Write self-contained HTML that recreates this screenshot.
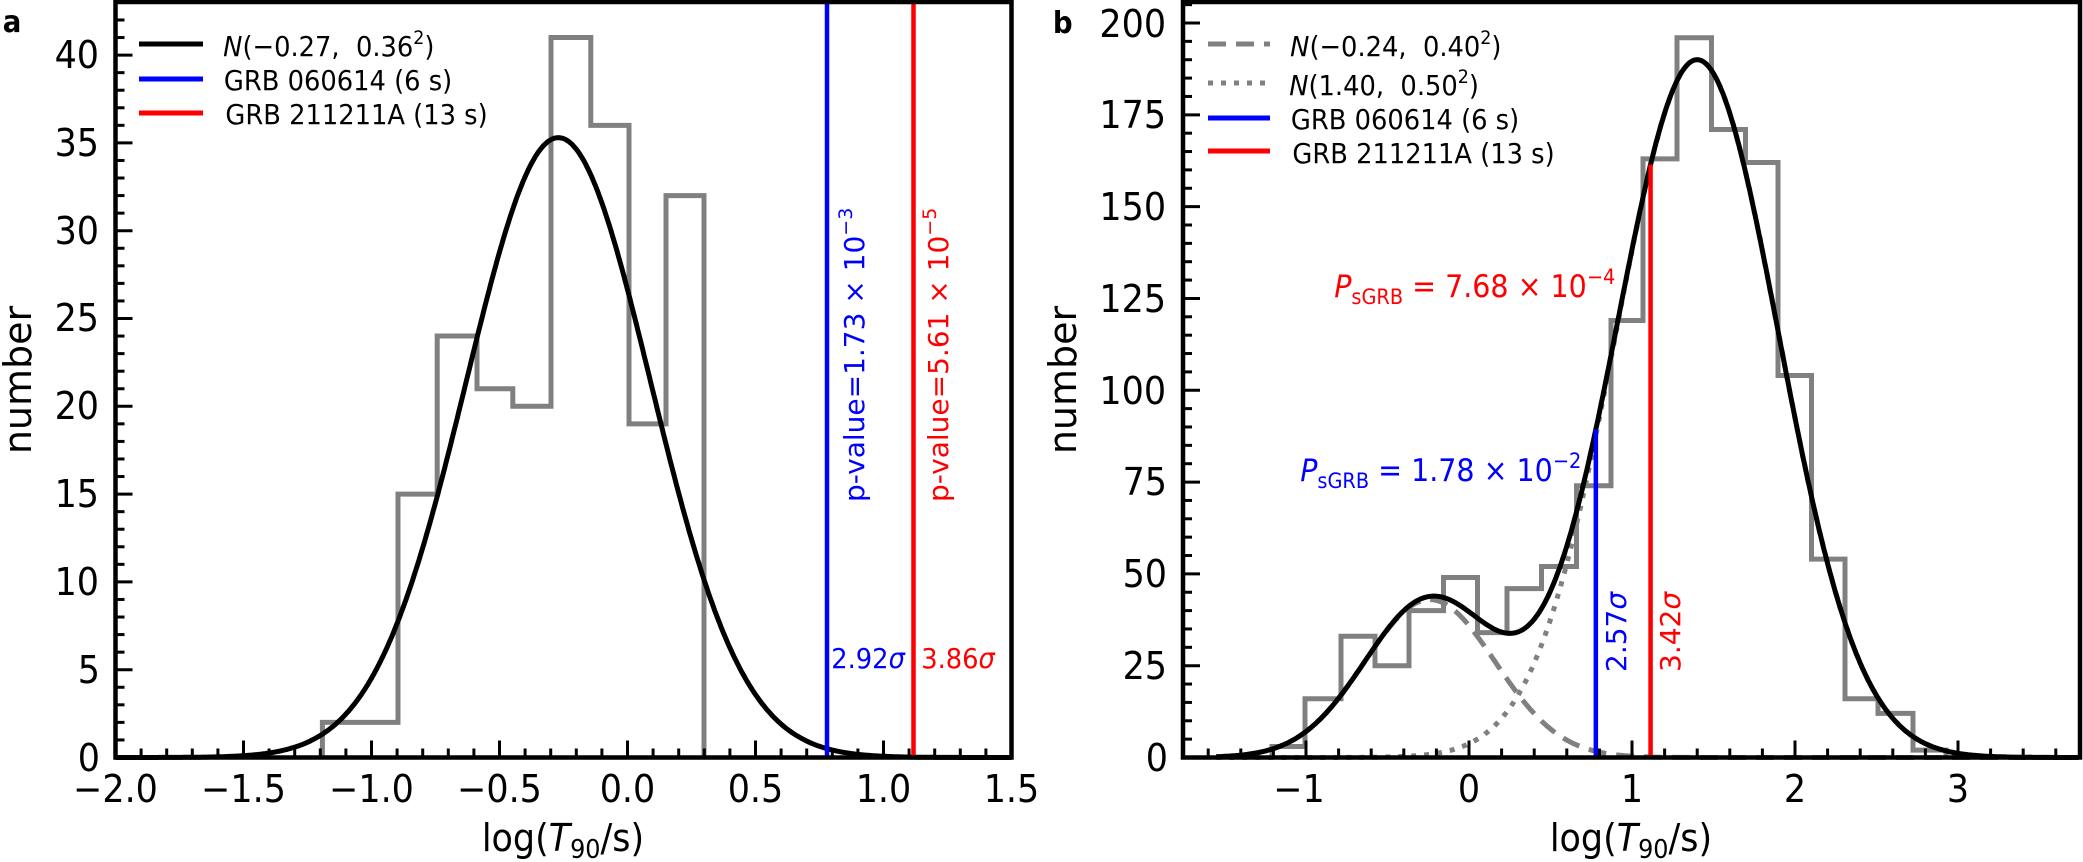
<!DOCTYPE html>
<html><head><meta charset="utf-8"><style>
html,body{margin:0;padding:0;background:#fff;}
svg{display:block;}
text{font-family:"DejaVu Sans","Liberation Sans",sans-serif;}
.sq{transform-box:fill-box;transform-origin:center;transform:scaleX(.92);}
.tk{font-size:38px;}
.lg{font-size:28px;}
.an{font-size:28px;}
</style></head><body>
<svg id="s" width="2083" height="862" viewBox="0 0 2083 862" xmlns="http://www.w3.org/2000/svg">
<g id="g"></g>
<text x="2" y="32" font-size="30" font-weight="bold" class="sq">a</text>
<text x="1052" y="33" font-size="30" font-weight="bold" class="sq">b</text>
<g class="tk" text-anchor="end">
<text class="sq" x="101" y="771">0</text>
<text class="sq" x="101" y="683">5</text>
<text class="sq" x="101" y="595">10</text>
<text class="sq" x="101" y="507">15</text>
<text class="sq" x="101" y="419">20</text>
<text class="sq" x="101" y="331">25</text>
<text class="sq" x="101" y="244">30</text>
<text class="sq" x="101" y="156">35</text>
<text class="sq" x="101" y="68">40</text>
</g>
<g class="tk" text-anchor="middle">
<text class="sq" x="115.5" y="802">−2.0</text>
<text class="sq" x="243.5" y="802">−1.5</text>
<text class="sq" x="371.5" y="802">−1.0</text>
<text class="sq" x="499.5" y="802">−0.5</text>
<text class="sq" x="627.5" y="802">0.0</text>
<text class="sq" x="755.5" y="802">0.5</text>
<text class="sq" x="883.5" y="802">1.0</text>
<text class="sq" x="1011.5" y="802">1.5</text>
</g>
<g class="tk" text-anchor="end">
<text class="sq" x="1169" y="771">0</text>
<text class="sq" x="1169" y="679">25</text>
<text class="sq" x="1169" y="587">50</text>
<text class="sq" x="1169" y="495">75</text>
<text class="sq" x="1169" y="404">100</text>
<text class="sq" x="1169" y="312">125</text>
<text class="sq" x="1169" y="220">150</text>
<text class="sq" x="1169" y="128">175</text>
<text class="sq" x="1169" y="37">200</text>
</g>
<g class="tk" text-anchor="middle">
<text class="sq" x="1299" y="802">−1</text>
<text class="sq" x="1469" y="802">0</text>
<text class="sq" x="1632" y="802">1</text>
<text class="sq" x="1795" y="802">2</text>
<text class="sq" x="1958" y="802">3</text>
</g>
<text class="tk sq" x="563" y="851" text-anchor="middle">log(<tspan font-style="italic">T</tspan><tspan font-size="26" dy="7">90</tspan><tspan dy="-7">/s)</tspan></text>
<text class="tk sq" x="1631" y="851" text-anchor="middle">log(<tspan font-style="italic">T</tspan><tspan font-size="26" dy="7">90</tspan><tspan dy="-7">/s)</tspan></text>
<text class="tk" transform="translate(31,380) rotate(-90)" text-anchor="middle">number</text>
<text class="tk" transform="translate(1076,380) rotate(-90)" text-anchor="middle">number</text>
<g class="lg">
<text class="sq" x="214" y="56"><tspan font-style="italic">N</tspan>(−0.27,&#160;&#160;0.36<tspan font-size="19" dy="-12">2</tspan><tspan dy="12">)</tspan></text>
<text class="sq" x="214" y="90">GRB 060614 (6 s)</text>
<text class="sq" x="214" y="124">GRB 211211A (13 s)</text>
<text class="sq" x="1281" y="56"><tspan font-style="italic">N</tspan>(−0.24,&#160;&#160;0.40<tspan font-size="19" dy="-12">2</tspan><tspan dy="12">)</tspan></text>
<text class="sq" x="1281" y="95"><tspan font-style="italic">N</tspan>(1.40,&#160;&#160;0.50<tspan font-size="19" dy="-12">2</tspan><tspan dy="12">)</tspan></text>
<text class="sq" x="1281" y="129">GRB 060614 (6 s)</text>
<text class="sq" x="1281" y="163">GRB 211211A (13 s)</text>
</g>
<g class="an">
<text fill="#0000ff" transform="translate(864,502) rotate(-90)">p-value=1.73 × 10<tspan font-size="19" dy="-12">−3</tspan></text>
<text fill="#ff0000" transform="translate(948,502) rotate(-90)">p-value=5.61 × 10<tspan font-size="19" dy="-12">−5</tspan></text>
<text class="sq" fill="#0000ff" x="828" y="668">2.92<tspan font-style="italic">σ</tspan></text>
<text class="sq" fill="#ff0000" x="918" y="668">3.86<tspan font-style="italic">σ</tspan></text>
<text class="sq" fill="#ff0000" x="1322" y="297" font-size="31"><tspan font-style="italic">P</tspan><tspan font-size="21" dy="7">sGRB</tspan><tspan dy="-7"> = 7.68 × 10</tspan><tspan font-size="21" dy="-13">−4</tspan></text>
<text class="sq" fill="#0000ff" x="1288" y="481" font-size="31"><tspan font-style="italic">P</tspan><tspan font-size="21" dy="7">sGRB</tspan><tspan dy="-7"> = 1.78 × 10</tspan><tspan font-size="21" dy="-13">−2</tspan></text>
<text fill="#0000ff" transform="translate(1626,672) rotate(-90)">2.57<tspan font-style="italic">σ</tspan></text>
<text fill="#ff0000" transform="translate(1680,672) rotate(-90)">3.42<tspan font-style="italic">σ</tspan></text>
</g>
</svg>
<script>
(function(){
var g=document.getElementById('g'),NS='http://www.w3.org/2000/svg';
function el(t,a){var e=document.createElementNS(NS,t);for(var k in a)e.setAttribute(k,a[k]);g.appendChild(e);return e;}
function line(x1,y1,x2,y2,c,w,extra){var a={x1:x1,y1:y1,x2:x2,y2:y2,stroke:c,'stroke-width':w};for(var k in extra)a[k]=extra[k];return el('line',a);}
var Y0=757.5,TOP=3;
var LX0=115.5,LX1=1011.5;function lx(v){return LX0+256*(v+2);}function ly(c){return Y0-17.56*c;}
var le=[322.4,398,437.2,477,512.8,551,590.8,629,666,704],lv=[2,15,24,21,20,41,36,19,32];
var d='M'+le[0]+','+Y0;for(var i=0;i<lv.length;i++){d+=' L'+le[i]+','+ly(lv[i])+' L'+le[i+1]+','+ly(lv[i]);}d+=' L'+le[le.length-1]+','+Y0;
el('path',{d:d,fill:'none',stroke:'#808080','stroke-width':5});
d='';for(var v=-2;v<=1.5001;v+=0.005){var c=35.3*Math.exp(-Math.pow(v+0.27,2)/(2*0.36*0.36));d+=(d?' L':'M')+lx(v).toFixed(1)+','+ly(c).toFixed(1);}
el('path',{d:d,fill:'none',stroke:'#000','stroke-width':5});
line(827,TOP,827,Y0,'#0000ff',4.5);line(913.5,TOP,913.5,Y0,'#ff0000',4.5);
for(var k=0;k<=43;k++){var y=ly(k);line(LX0,y,LX0+(k%5==0?17:9),y,'#000',3);}
for(var k=0;k<=35;k++){var x=LX0+25.6*k;line(x,Y0,x,Y0-(k%5==0?17:9),'#000',3);}
el('rect',{x:LX0,y:TOP-1,width:LX1-LX0,height:Y0-TOP+1,fill:'none',stroke:'#000','stroke-width':4.5});
line(139,44,203,44,'#000',5);line(139,79,203,79,'#0000ff',5);line(139,113,203,113,'#ff0000',5);
var RX0=1183,RX1=2080;function rx(v){return 1469+163*v;}function ry(c){return Y0-3.6725*c;}
var re=[1272,1305,1341,1375,1409,1443.5,1477.5,1507,1541.5,1576.5,1611,1643,1677,1711.5,1745.5,1778,1811.5,1845,1878,1913,1946];
var rv=[3,16,33,25,40,49,34,46,52,74,119,163,196,171,162,104,54,16,12,2];
d='M'+re[0]+','+Y0;for(var i=0;i<rv.length;i++){d+=' L'+re[i]+','+ry(rv[i])+' L'+re[i+1]+','+ry(rv[i]);}d+=' L'+re[re.length-1]+','+Y0;
el('path',{d:d,fill:'none',stroke:'#808080','stroke-width':5});
function g1(v){return 43*Math.exp(-Math.pow(v+0.24,2)/(2*0.16));}
function g2(v){return 190*Math.exp(-Math.pow(v-1.40,2)/(2*0.25));}
var d1='',d2='',d3='';
for(var v=-1.55;v<=3.74;v+=0.005){var X=rx(v).toFixed(1);
d1+=(d1?' L':'M')+X+','+ry(g1(v)).toFixed(1);
d2+=(d2?' L':'M')+X+','+ry(g2(v)).toFixed(1);
d3+=(d3?' L':'M')+X+','+ry(g1(v)+g2(v)).toFixed(1);}
el('path',{d:d1,fill:'none',stroke:'#808080','stroke-width':5,'stroke-dasharray':'18,10'});
el('path',{d:d2,fill:'none',stroke:'#808080','stroke-width':5,'stroke-dasharray':'5,8'});
el('path',{d:d3,fill:'none',stroke:'#000','stroke-width':5});
var xb=rx(Math.log10(6)),xr=rx(Math.log10(13));
line(xb,ry(g1(Math.log10(6))+g2(Math.log10(6))),xb,Y0,'#0000ff',4.5);
line(xr,ry(g1(Math.log10(13))+g2(Math.log10(13))),xr,Y0,'#ff0000',4.5);
for(var k=0;k<=205;k+=5){var y=ry(k);line(RX0,y,RX0+(k%25==0?17:9),y,'#000',3);}
for(var k=-8;k<=18;k++){var x=rx(k*0.2);if(x<RX0||x>RX1)continue;line(x,Y0,x,Y0-(k%5==0?17:9),'#000',3);}
el('rect',{x:RX0,y:TOP-1,width:RX1-RX0,height:Y0-TOP+1,fill:'none',stroke:'#000','stroke-width':4.5});
line(1208,44,1270,44,'#808080',5,{'stroke-dasharray':'18,10'});
line(1208,83,1270,83,'#808080',5,{'stroke-dasharray':'5,8'});
line(1208,118,1270,118,'#0000ff',5);line(1208,151,1270,151,'#ff0000',5);
})();
</script>
</body></html>
